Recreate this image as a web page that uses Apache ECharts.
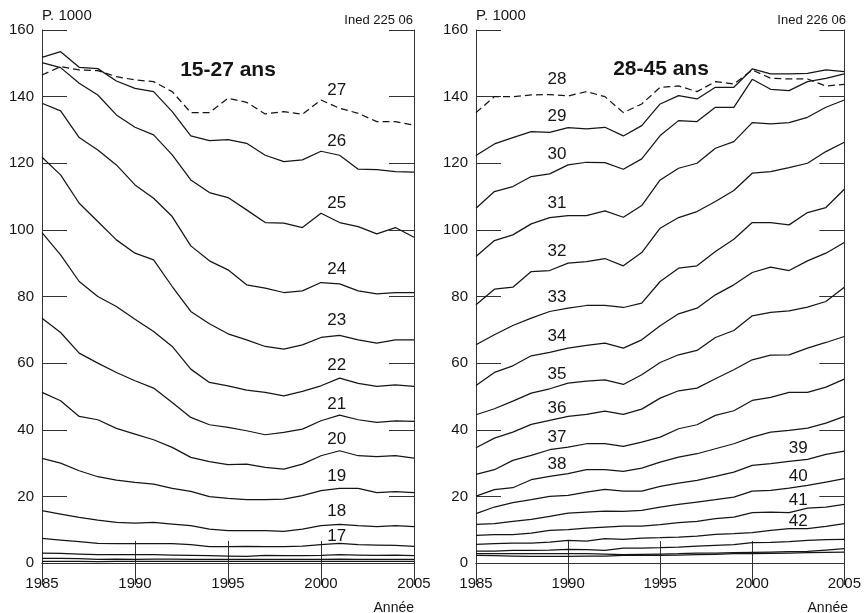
<!DOCTYPE html>
<html>
<head>
<meta charset="utf-8">
<script src="https://cdn.jsdelivr.net/npm/echarts@6/dist/echarts.min.js"></script>
<style>html,body{margin:0;padding:0;background:#fff}#c{width:864px;height:613px}</style>
</head>
<body>
<div id="c"></div>
<script>
// ---------- DATA ----------
const years = [1985,1986,1987,1988,1989,1990,1991,1992,1993,1994,1995,1996,1997,1998,1999,2000,2001,2002,2003,2004,2005];
const xTicks = [1985, 1990, 1995, 2000, 2005];
const yTicks = [0, 20, 40, 60, 80, 100, 120, 140, 160];

// Panel 1 : 15-27 ans (rates per 1000)
const age27 = [146.5,149,148,147.8,146,145,144.5,141.5,135.2,135.2,139.5,138.3,134.8,135.5,134.7,139,136.5,135,132.5,132.5,131.4];
const age26 = [151.8,153.5,148.8,148.4,144.7,142.5,141.5,135.5,128.2,126.8,127.1,126,122.4,120.5,121,123.6,122.4,118.2,118.1,117.5,117.3];
const age25 = [150.2,148.7,144,140.5,134.5,130.8,128.5,122.5,115,111.2,109.7,106,102.2,102,100.7,105,102.2,101,98.8,100.7,97.8];
const age24 = [138,135.7,127.7,124,119.5,113.5,109.5,104,95.2,90.7,88,83.5,82.5,81.2,81.7,84.2,83.8,81.7,80.8,81.2,81.2];
const age23 = [121.8,116.5,108,102.5,97,93,91,83,75.5,71.8,68.8,67,65,64.2,65.5,67.7,68.3,67,66,67,67];
const age22 = [99.2,92.5,84.5,80,77,73.2,69.5,65,58.2,54.2,53.2,51.9,51.2,50.2,51.5,53.2,55.5,53.9,53,53.5,53];
const age21 = [73.5,69.2,63,60,57.2,54.7,52.5,48.2,43.7,41.5,40.7,39.7,38.5,39.2,40.2,42.7,44.4,43,42.2,42.7,42.5];
const age20 = [51.2,48.7,44,43,40.4,38.7,37,34.7,31.7,30.4,29.5,29.7,28.7,28.2,29.7,32.2,33.7,32.2,31.9,32.2,31.5];
const age19 = [31.4,30,27.7,25.9,24.9,24.2,23.7,22.4,21.5,19.9,19.4,19,19,19.2,20.2,21.7,22.4,22.4,21.1,21.4,21.1];
const age18 = [15.7,14.7,13.7,12.9,12.2,12,12.2,11.7,11.2,10.2,9.7,9.7,9.7,9.5,10.2,11.2,11.6,11.2,10.9,11.2,10.9];
const age17 = [7.4,6.9,6.4,5.9,5.8,5.8,5.8,5.8,5.5,4.9,4.9,5,4.9,4.9,5.1,5.5,5.9,5.5,5.4,5.3,5];
const age16 = [3.0,2.9,2.7,2.5,2.5,2.5,2.5,2.4,2.3,2.2,2.1,2.0,2.3,2.2,2.2,2.3,2.5,2.4,2.3,2.4,2.2];
const age15 = [1.4,1.4,1.3,1.1,1.2,1.1,1.2,1.2,1.1,1.1,1.1,1.1,1.1,1.1,1.1,1.1,1.2,1.1,1.1,1.1,1.1];
const age14 = [0.5,0.5,0.5,0.4,0.5,0.5,0.5,0.5,0.5,0.5,0.5,0.5,0.5,0.5,0.5,0.5,0.5,0.5,0.5,0.5,0.5];

// Panel 2 : 28-45 ans
const age28 = [135.2,140,140,140.5,140.6,140.2,141.5,140,135.2,137.8,142.8,143.2,141.5,144.5,143.8,148,145.5,145.3,145.3,143.2,143.7];
const age29 = [122.3,125.8,127.7,129.5,129.3,130.7,130.3,130.8,128.2,131.3,137.8,140.3,139.3,142.8,142.8,148.3,146.8,146.8,147,148,147.5];
const age30 = [106.5,111.5,113,116,116.8,119.5,120.3,120.2,118.2,121.3,128.3,132.8,132.5,136.8,136.8,145.2,142.2,141.8,144.5,145.5,146.8];
const age31 = [92,96.8,98.5,101.8,103.7,104.3,104.3,105.7,103.8,107.3,115,118.5,120,124.5,126.5,132.2,131.8,132.2,133.8,136.8,139];
const age32 = [77.5,82.2,82.8,87.5,87.8,90,90.5,91.4,89.2,93.2,100.5,103.7,105.5,108.5,111.8,117,117.5,118.7,120,123.5,126.3];
const age33 = [65.5,68.5,71.3,73.5,75.5,76.5,77.3,77.3,76.7,78,84.5,88.5,89.2,93.5,97.2,102.2,102.2,101.5,105.2,106.7,112.2];
const age34 = [53.3,57.2,59.2,62.2,63.2,64.5,65.3,66,64.5,67,71.2,74.8,76.5,80.5,83.5,87.2,88.8,87.8,90.7,93,96.2];
const age35 = [44.5,46.3,48.6,51,52.3,54,54.6,55,53.6,56.5,60.2,62.5,63.8,67.7,69.8,74.2,75.2,75.7,76.8,78.5,82.8];
const age36 = [34.6,37.5,39.3,41.6,42.8,44,44.6,45.6,44.6,46.2,49.5,51.7,52.5,55.3,58,61,62.4,62.5,64.5,66.2,68];
const age37 = [26.6,28,30.8,32.3,34,34.8,35.8,35.8,35,36.3,37.8,40.3,41.5,44.3,45.7,48.8,49.7,51.2,51.2,52.8,55.2];
const age38 = [20.1,22,22.6,25,26,26.8,28,28,27.5,28.5,30.3,31.8,32.8,34.3,35.8,37.8,39.3,39.8,40.5,42,44];
const age39 = [14.8,16.8,18.1,19,20,20.3,21.3,22.1,21.6,21.6,23,24,24.8,26,27.3,29.3,29.8,30.5,31.1,32.6,33.6];
const age40 = [11.6,11.8,12.5,13.1,14,15,15.3,15.6,15.5,15.8,16.8,17.6,18.3,19,19.8,21.6,21.8,22.5,23.3,24.3,25.3];
const age41 = [8.3,8.5,8.5,9,9.8,10,10.5,10.8,11.1,11.1,11.5,12.1,12.5,13.3,13.8,15.1,15.3,15.1,16.5,16.8,17.6];
const age42 = [5.6,5.8,6,6,6.3,6.8,6.6,7.3,7.1,7.5,7.6,7.8,8.1,8.6,8.8,9.1,9.8,10.3,10.3,11,11.8];
const age43 = [3.6,3.6,3.8,3.8,3.9,4.1,4.0,3.8,4.5,4.5,4.6,4.8,5.1,5.3,5.5,6.1,6.2,6.4,6.8,7.0,7.1];
const age44 = [2.8,2.8,2.8,2.8,2.8,2.8,2.8,2.7,2.5,2.6,2.7,2.8,3.0,3.0,3.1,3.2,3.3,3.4,3.5,3.9,4.3];
const age45 = [2.3,2.2,2.1,2.0,2.0,2.0,2.1,2.1,2.3,2.3,2.3,2.4,2.5,2.6,2.8,2.8,2.9,3.0,3.1,3.2,3.3];

// series lists : [label, values, dashed, labelYear]
const panel1 = [
  ['27', age27, true, 2000.85], ['26', age26, false, 2000.85], ['25', age25, false, 2000.85],
  ['24', age24, false, 2000.85], ['23', age23, false, 2000.85], ['22', age22, false, 2000.85],
  ['21', age21, false, 2000.85], ['20', age20, false, 2000.85], ['19', age19, false, 2000.85],
  ['18', age18, false, 2000.85], ['17', age17, false, 2000.85], ['', age16, false, null],
  ['', age15, false, null], ['', age14, false, null]
];
const panel2 = [
  ['28', age28, true, 1989.4], ['29', age29, false, 1989.4], ['30', age30, false, 1989.4],
  ['31', age31, false, 1989.4], ['32', age32, false, 1989.4], ['33', age33, false, 1989.4],
  ['34', age34, false, 1989.4], ['35', age35, false, 1989.4], ['36', age36, false, 1989.4],
  ['37', age37, false, 1989.4], ['38', age38, false, 1989.4], ['39', age39, false, 2002.5],
  ['40', age40, false, 2002.5], ['41', age41, false, 2002.5], ['42', age42, false, 2002.5],
  ['', age43, false, null], ['', age44, false, null], ['', age45, false, null]
];
// label lift above the line (pixels), style only
const lift1 = {'27':17,'26':13,'25':18,'24':14.5,'23':15.5,'22':14,'21':12,'20':12,'19':12.5,'18':13.5,'17':7};
const lift2 = {'28':16,'29':14,'30':16,'31':13,'32':16,'33':13,'34':14,'35':12,'36':11,'37':11,'38':11.5,'39':12.5,'40':10.5,'41':10,'42':7};

// ---------- CHART ----------
const FONT = '"Liberation Sans", Arial, Helvetica, sans-serif';
const INK = '#151515';
const chart = echarts.init(document.getElementById('c'), null, {renderer: 'canvas'});

function interp(vals, x) {
  const i = Math.min(Math.floor(x - years[0]), years.length - 2);
  const t = x - years[i];
  return vals[i] * (1 - t) + vals[i + 1] * t;
}

const grids = [
  {left: 42, top: 30, width: 372, height: 533},
  {left: 476, top: 30, width: 372, height: 533}
];

const xAxes = [], yAxes = [];
grids.forEach((g, gi) => {
  const base = {
    type: 'value', min: 1985, max: 2005, interval: 5, gridIndex: gi,
    axisLine: {show: true, lineStyle: {color: '#333', width: 1}},
    splitLine: {show: false}
  };
  xAxes.push(Object.assign({}, base, {
    position: 'bottom',
    axisTick: {show: true, inside: true, length: 22, lineStyle: {color: '#333', width: 1}},
    axisLabel: {show: true, fontSize: 15, color: INK, fontFamily: FONT, margin: 13, formatter: v => xTicks.includes(v) ? String(v) : ''}
  }));
  xAxes.push(Object.assign({}, base, {
    position: 'top',
    axisTick: {show: true, inside: true, length: 22, lineStyle: {color: '#333', width: 1}},
    axisLabel: {show: false}
  }));
  const ybase = {
    type: 'value', min: 0, max: 160, interval: 20, gridIndex: gi,
    axisLine: {show: true, lineStyle: {color: '#333', width: 1}},
    axisTick: {show: true, inside: true, length: 25, lineStyle: {color: '#333', width: 1}},
    splitLine: {show: false}
  };
  yAxes.push(Object.assign({}, ybase, {
    position: 'left',
    axisLabel: {show: true, fontSize: 15, color: INK, fontFamily: FONT, margin: 8, formatter: v => yTicks.includes(v) ? String(v) : ''}
  }));
  yAxes.push(Object.assign({}, ybase, {position: 'right', axisLabel: {show: false}}));
});

const series = [];
function addPanel(list, gi, lifts) {
  list.forEach(([lab, vals, dashed, ly]) => {
    const s = {
      type: 'line',
      xAxisIndex: gi * 2, yAxisIndex: gi * 2,
      data: years.map((y, i) => [y, vals[i]]),
      symbol: 'none', smooth: false, silent: true, animation: false,
      lineStyle: {color: INK, width: 1.25, type: dashed ? [7, 4] : 'solid'},
      z: 3
    };
    if (lab && ly != null) {
      s.markPoint = {
        symbol: 'circle', symbolSize: 1, silent: true, animation: false,
        itemStyle: {color: 'rgba(0,0,0,0)'},
        data: [{
          coord: [ly, interp(vals, ly)],
          label: {show: true, formatter: lab, position: 'inside', offset: [0, -lifts[lab]],
                  fontSize: 17, color: INK, fontFamily: FONT}
        }]
      };
    }
    series.push(s);
  });
}
addPanel(panel1, 0, lift1);
addPanel(panel2, 1, lift2);

const txt = (x, y, text, size, align, weight) => ({
  type: 'text', x: x, y: y, silent: true,
  style: {text: text, fontSize: size, fontFamily: FONT, fill: INK, textAlign: align, textVerticalAlign: 'middle', fontWeight: weight || 'normal'}
});

chart.setOption({
  backgroundColor: '#fff',
  animation: false,
  grid: grids,
  xAxis: xAxes,
  yAxis: yAxes,
  series: series,
  graphic: [
    txt(42, 16, 'P. 1000', 15, 'left'),
    txt(413, 20, 'Ined 225 06', 13, 'right'),
    txt(228, 70, '15-27 ans', 21, 'center', 'bold'),
    txt(414, 608, 'Année', 14, 'right'),
    txt(476, 16, 'P. 1000', 15, 'left'),
    txt(846, 20, 'Ined 226 06', 13, 'right'),
    txt(661, 69, '28-45 ans', 21, 'center', 'bold'),
    txt(848, 608, 'Année', 14, 'right')
  ]
});
</script>
</body>
</html>
